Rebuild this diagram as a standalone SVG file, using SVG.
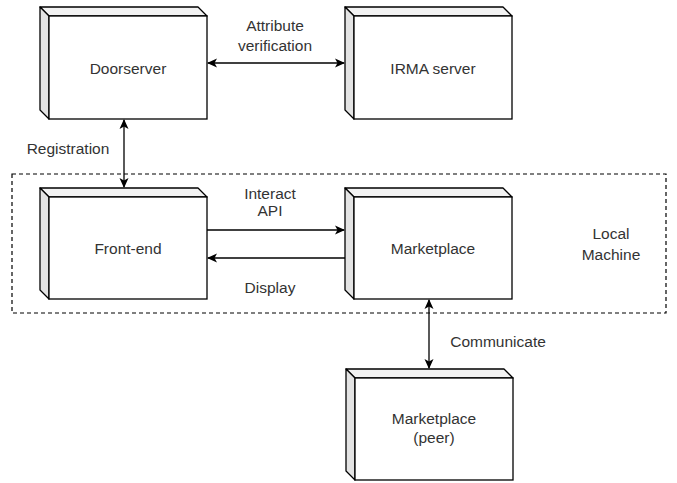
<svg xmlns="http://www.w3.org/2000/svg" width="677" height="483" viewBox="0 0 677 483">
<defs>
<style>
.front{fill:#ffffff;stroke:#000;stroke-width:1.3}
.top{fill:#f2f2f2;stroke:#000;stroke-width:1.3;stroke-linejoin:round}
.side{fill:#e3e3e3;stroke:#000;stroke-width:1.3;stroke-linejoin:round}
.lbl{font-family:"Liberation Sans",Arial,sans-serif;font-size:15.5px;fill:#333;text-anchor:middle}
.conn{stroke:#000;stroke-width:1.3;fill:none}
</style>
<marker id="ah" viewBox="0 0 10 10" refX="9" refY="5" markerWidth="10" markerHeight="10" markerUnits="userSpaceOnUse" orient="auto-start-reverse">
<path d="M0,0.5 L10,5 L0,9.5 L2.5,5 Z" fill="#000"/>
</marker>
</defs>
<rect x="12" y="174" width="654" height="139" fill="none" stroke="#000" stroke-width="1.2" stroke-dasharray="4,3"/>
<text class="lbl" x="611" y="239">Local</text>
<text class="lbl" x="611" y="260">Machine</text>
<g id="doorserver">
<polygon class="top" points="40,7 198,7 207,16 49,16"/>
<polygon class="side" points="40,7 49,16 49,119 40,110"/>
<rect class="front" x="49" y="16" width="158" height="103"/>
<text class="lbl" x="128" y="74">Doorserver</text>
</g>
<g id="irma">
<polygon class="top" points="345,7 503,7 512,16 354,16"/>
<polygon class="side" points="345,7 354,16 354,119 345,110"/>
<rect class="front" x="354" y="16" width="158" height="103"/>
<text class="lbl" x="433" y="74">IRMA server</text>
</g>
<g id="frontend">
<polygon class="top" points="40,188 198,188 207,197 49,197"/>
<polygon class="side" points="40,188 49,197 49,299 40,290"/>
<rect class="front" x="49" y="197" width="158" height="102"/>
<text class="lbl" x="128" y="254">Front-end</text>
</g>
<g id="marketplace">
<polygon class="top" points="345,188 503,188 512,197 354,197"/>
<polygon class="side" points="345,188 354,197 354,299 345,290"/>
<rect class="front" x="354" y="197" width="158" height="102"/>
<text class="lbl" x="433" y="254">Marketplace</text>
</g>
<g id="peer">
<polygon class="top" points="346,369 504,369 513,378 355,378"/>
<polygon class="side" points="346,369 355,378 355,480 346,471"/>
<rect class="front" x="355" y="378" width="158" height="102"/>
<text class="lbl" x="434" y="424">Marketplace</text>
<text class="lbl" x="434" y="443">(peer)</text>
</g>
<g id="connectors">
<line class="conn" x1="208" y1="63" x2="344" y2="63" marker-start="url(#ah)" marker-end="url(#ah)"/>
<line class="conn" x1="124" y1="120" x2="124" y2="187" marker-start="url(#ah)" marker-end="url(#ah)"/>
<line class="conn" x1="207" y1="230" x2="344" y2="230" marker-end="url(#ah)"/>
<line class="conn" x1="345" y1="258" x2="208" y2="258" marker-end="url(#ah)"/>
<line class="conn" x1="429" y1="300" x2="429" y2="368" marker-start="url(#ah)" marker-end="url(#ah)"/>
<text class="lbl" x="275" y="31">Attribute</text>
<text class="lbl" x="275" y="51">verification</text>
<text class="lbl" x="68" y="154">Registration</text>
<text class="lbl" x="270" y="199">Interact</text>
<text class="lbl" x="270" y="216">API</text>
<text class="lbl" x="270" y="293">Display</text>
<text class="lbl" x="498" y="347">Communicate</text>
</g>
</svg>
